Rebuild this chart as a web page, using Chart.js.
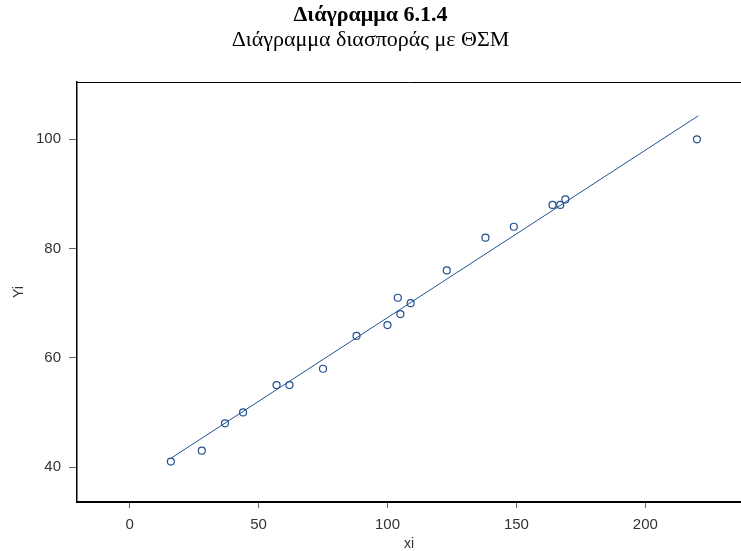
<!DOCTYPE html>
<html>
<head>
<meta charset="utf-8">
<script src="https://cdn.jsdelivr.net/npm/chart.js@4"></script>
<style>
    body { margin: 0; background: #fff; overflow: hidden; }
    #wrap { width: 741px; height: 551px; position: relative; }
</style>
</head>
<body>
<div id="wrap"><canvas id="scatterChart"></canvas></div>
<script>
const xValues = [16, 28, 37, 44, 57, 62, 75, 88, 100, 104, 105, 109, 123, 138, 149, 164, 167, 169, 220];
const yValues = [41, 43, 48, 50, 55, 55, 58, 64, 66, 71, 68, 70, 76, 82, 84, 88, 88, 89, 100];

// fitted line (ΘΣΜ) endpoints
const fitX = [16, 220.5];
const fitY = [41.6, 104.3];

const xTicks = [0, 50, 100, 150, 200];
const yTicks = [40, 60, 80, 100];

const blue = '#21528f';
const tickFont = { family: "'Liberation Sans', Arial, sans-serif", size: 15 };

document.addEventListener('DOMContentLoaded', function () {
    const ctx = document.getElementById('scatterChart').getContext('2d');
    new Chart(ctx, {
        type: 'scatter',
        data: {
            datasets: [{
                label: 'Yi',
                data: xValues.map((x, i) => ({ x: x, y: yValues[i] })),
                pointStyle: 'circle',
                pointRadius: 3.5,
                borderWidth: 1.2,
                borderColor: blue,
                backgroundColor: 'rgba(255,255,255,0)'
            }, {
                type: 'line',
                label: 'ΘΣΜ',
                data: fitX.map((x, i) => ({ x: x, y: fitY[i] })),
                borderColor: blue,
                borderWidth: 1,
                pointRadius: 0,
                fill: false
            }]
        },
        options: {
            responsive: true,
            maintainAspectRatio: false,
            animation: false,
            layout: { padding: 0, autoPadding: false },
            plugins: {
                legend: { display: false },
                tooltip: { enabled: false },
                title: {
                    display: true,
                    text: 'Διάγραμμα 6.1.4',
                    color: '#000',
                    font: { family: "'Liberation Serif', 'Times New Roman', serif", size: 22, weight: 'bold', lineHeight: 1 },
                    padding: { top: 4, bottom: 0 }
                },
                subtitle: {
                    display: true,
                    text: 'Διάγραμμα διασποράς με ΘΣΜ',
                    color: '#000',
                    font: { family: "'Liberation Serif', 'Times New Roman', serif", size: 22, weight: 'normal', lineHeight: 1 },
                    padding: { top: 3, bottom: 31 }
                }
            },
            scales: {
                x: {
                    type: 'linear',
                    position: 'bottom',
                    min: -20.4,
                    max: 237.1,
                    afterBuildTicks: scale => { scale.ticks = xTicks.map(v => ({ value: v })); },
                    afterFit: scale => {
                        scale.height = 49;
                        scale.paddingLeft = 0;
                        scale.paddingRight = 0;
                    },
                    border: { display: true, color: '#000', width: 2 },
                    grid: { drawOnChartArea: false, drawTicks: true, tickLength: 6, tickColor: '#666', tickWidth: 1 },
                    ticks: { color: '#333', font: tickFont, padding: 8 },
                    title: {
                        display: true,
                        text: 'xi',
                        color: '#333',
                        font: { family: "'Liberation Sans', Arial, sans-serif", size: 14, lineHeight: 1 },
                        padding: 0
                    }
                },
                xTop: {
                    type: 'linear',
                    position: 'top',
                    min: 0,
                    max: 1,
                    afterFit: scale => {
                        scale.height = 0;
                        scale.paddingLeft = 0;
                        scale.paddingRight = 0;
                    },
                    border: { display: true, color: '#000', width: 1 },
                    grid: { display: false, drawTicks: false },
                    ticks: { display: false }
                },
                y: {
                    type: 'linear',
                    min: 33.6,
                    max: 110.5,
                    afterBuildTicks: scale => { scale.ticks = yTicks.map(v => ({ value: v })); },
                    afterFit: scale => {
                        scale.width = 77;
                        scale.paddingTop = 0;
                        scale.paddingBottom = 0;
                    },
                    border: { display: true, color: '#000', width: 1.5 },
                    grid: { drawOnChartArea: false, drawTicks: true, tickLength: 8, tickColor: '#666', tickWidth: 1 },
                    ticks: { color: '#333', font: tickFont, padding: 8 },
                    title: {
                        display: true,
                        text: 'Yi',
                        color: '#333',
                        font: { family: "'Liberation Sans', Arial, sans-serif", size: 14, lineHeight: 1 },
                        padding: { top: 12, bottom: 0 }
                    }
                }
            }
        }
    });
});
</script>
</body>
</html>
